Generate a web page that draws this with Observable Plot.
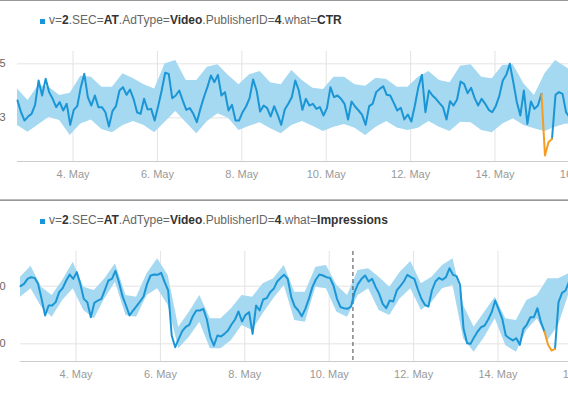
<!DOCTYPE html>
<html><head><meta charset="utf-8">
<script src="https://cdn.jsdelivr.net/npm/d3@7"></script>
<script src="https://cdn.jsdelivr.net/npm/@observablehq/plot@0.6"></script>
<style>
html,body{margin:0;padding:0;background:#fff;overflow:hidden;}
#wrap{position:relative;width:568px;height:399px;overflow:hidden;background:#fff;font-family:"Liberation Sans",Arial,Helvetica,sans-serif;}
.rule{position:absolute;left:0;width:568px;height:1px;background:#999;}
.title{position:absolute;left:49px;font-size:12px;color:#666;white-space:nowrap;line-height:14px;}
.title b{color:#333;}
.sym{position:absolute;left:40px;width:5px;height:5px;background:#1a96d6;}
.chart{position:absolute;width:633px;height:150px;}
.chart svg{max-width:none !important;}
</style></head>
<body><div id="wrap">
<div class="rule" style="top:0"></div>
<div class="sym" style="top:19px"></div>
<div class="title" style="top:13px">v=<b>2</b>.SEC=<b>AT</b>.AdType=<b>Video</b>.PublisherID=<b>4</b>.what=<b>CTR</b></div>
<div class="chart" id="c1"></div>
<div class="rule" style="top:199px;background:#bbb"></div>
<div class="rule" style="top:200px;background:#999"></div>
<div class="sym" style="top:219px"></div>
<div class="title" style="top:213px">v=<b>2</b>.SEC=<b>AT</b>.AdType=<b>Video</b>.PublisherID=<b>4</b>.what=<b>Impressions</b></div>
<div class="chart" id="c2"></div>
</div>
<script>
const HOUR = 3600e3;
const startTime = Date.UTC(2015, 4, 2, 16, 25);
const endTime = Date.UTC(2015, 4, 16, 12, 0);
const lineStepHours = 2;
const bandStepHours = 6;
const tickDates = ["2015-05-04","2015-05-06","2015-05-08","2015-05-10","2015-05-12","2015-05-14","2015-05-16"];
const annotationTime = "2015-05-10T13:30Z";

// CTR in per-mille; y tick labels show only the digit visible at the chart's left edge
const ctrTicks = [30, 35];
const ctrTickLabels = ["3", "5"];
const ctrDomain = [25.96, 36.14];
const ctrLine = [
31.60,30.52,29.75,30.12,30.37,31.20,33.46,32.07,33.61,32.38,
31.76,30.99,31.45,30.68,31.30,29.35,30.74,31.08,32.84,34.07,
31.91,31.14,32.07,30.99,30.99,30.52,29.20,30.62,31.08,32.53,
32.84,32.13,32.62,31.76,30.52,30.37,31.76,30.77,30.83,29.75,
31.08,32.53,34.17,34.07,31.82,32.07,32.53,31.60,30.74,30.90,
30.37,29.60,30.83,31.91,32.84,33.92,33.30,33.98,32.07,32.38,
30.68,31.20,29.75,29.75,30.52,31.05,31.82,33.55,32.53,30.59,
31.14,30.90,30.12,31.08,30.28,29.35,30.77,31.30,31.91,33.46,
32.53,30.74,31.76,31.14,31.30,30.83,30.99,30.22,30.90,32.84,
31.91,32.07,31.76,31.30,29.85,31.51,31.05,30.68,30.28,29.35,
31.08,31.30,32.38,32.68,32.93,32.13,32.07,31.39,30.68,30.93,
29.85,30.31,29.66,31.14,32.84,33.98,30.52,32.53,32.07,31.76,
31.36,30.99,29.85,31.54,31.14,31.70,33.36,33.15,32.28,32.78,
31.82,31.14,31.76,31.30,30.74,30.52,31.08,32.01,33.46,33.98,
35.00,33.30,31.45,30.22,32.53,29.44,31.51,30.83,31.14,32.22,
null,null,28.06,32.13,32.38,32.22,30.52,30.06];
const ctrAlertStart = 149;
const ctrAlert = [32.22, 26.51, 27.75, 28.06];
const ctrHigh = [
32.68,31.60,32.99,32.84,32.07,32.28,33.86,33.76,32.84,32.84,
34.07,33.61,33.06,32.68,35.00,35.31,33.46,33.46,34.69,34.91,
33.92,33.06,33.98,34.29,33.24,33.06,34.38,33.46,32.75,32.62,
33.76,33.76,33.06,32.93,33.67,33.55,32.84,32.84,33.76,34.29,
33.46,33.24,34.78,34.91,33.76,33.61,34.85,34.91,33.15,32.07,
34.07,35.31,34.69,33.92];
const ctrLow = [
29.29,28.67,29.35,30.06,29.75,28.36,29.44,29.81,28.92,28.61,
29.29,29.66,29.29,28.61,29.60,30.59,29.54,28.52,29.66,30.37,
29.97,28.83,29.23,29.54,28.98,28.52,29.29,29.66,29.23,28.73,
29.14,29.38,29.04,28.36,29.14,29.66,29.07,28.83,29.04,29.66,
29.14,28.73,29.60,29.54,28.83,28.61,29.44,29.91,29.29,28.98,
28.73,29.14,29.44,29.29];

const impTicks = [1000, 2000];
const impTickLabels = ["0", "0"];
const impDomain = [694, 2601];
const impLine = [
2000,2040,2127,2156,2144,2040,1780,1491,1665,1665,
1723,1896,1965,2098,2202,2127,2243,2040,1780,1723,
1462,1711,1751,1780,1936,2098,2127,2266,2069,1827,
1665,1491,1578,1653,1734,1821,2040,2185,2202,2196,
2231,2069,1925,1145,942,1087,1220,1295,1329,1480,
1578,1578,1607,1422,1116,971,1145,1127,1173,1231,
1335,1422,1561,1387,1503,1549,1173,1665,1578,1769,
1792,1896,1954,2081,2144,2196,2127,1809,1647,1578,
1480,1607,1780,1983,2116,2202,2185,2156,2144,2012,
1780,1636,1618,1607,1647,1896,2040,2127,2185,2081,
2127,1983,1867,1694,1618,1751,1734,1925,2000,2081,
2196,2156,2127,1942,1780,1676,1647,1925,2081,2144,
2110,2156,2312,2196,2173,2023,1260,1012,1000,1116,
1214,1289,1318,1422,1549,1751,1595,1434,1145,1098,
1058,1098,983,1260,1335,1462,1462,1618,1376,1214,
null,null,913,1723,1884,1925,2081,2127];
const impAlertStart = 149;
const impAlert = [1214, 988, 884, 913];
const impHigh = [
2156,2347,1983,1838,2098,2416,1983,1925,2127,2387,
1838,1809,2214,2474,2185,1289,1549,1838,1434,1434,
1607,1838,1809,2040,2127,2358,1896,1896,2329,2358,
2012,1838,2272,2301,2156,1983,2243,2428,2040,2156,
2358,2474,1665,1289,1549,1809,1434,1405,1751,1838,
2127,2127,2214,2214];
const impLow = [
1809,1954,1636,1462,1751,1954,1578,1434,1780,2069,
1491,1462,1838,1954,1665,913,1116,1376,913,913,
1058,1318,1231,1520,1780,2012,1405,1376,1983,1954,
1549,1462,1838,1954,1578,1491,1780,1954,1578,1723,
1954,2012,1087,855,1116,1434,971,855,1231,1434,
1058,1318,1867,1896];

const BLUE = "#1a96d6", BAND = "#a5d8f1", ORANGE = "#f59d22", GRID = "#e3e3e3";

const lineRows = arr => arr.map((v, i) => ({t: new Date(startTime + i * lineStepHours * HOUR), v}));
const alertRows = (start, arr) => arr.map((v, i) => ({t: new Date(startTime + (start + i) * lineStepHours * HOUR), v}));
const bandRows = (lo, hi) => lo.map((l, i) => ({t: new Date(startTime + i * bandStepHours * HOUR), lo: l, hi: hi[i]}));
const ticks = tickDates.map(d => new Date(d + "T00:00Z"));

function chart(line, alert, band, yDomain, yTicks, yLabels, yPad, extra) {
  return Plot.plot({
    width: 633, height: 150,
    marginLeft: 40, marginRight: 10, marginTop: 10, marginBottom: 30,
    style: {fontFamily: '"Liberation Sans", Arial, Helvetica, sans-serif', fontSize: "11px", color: "#999", background: "transparent", maxWidth: "none"},
    x: {type: "utc", domain: [new Date(startTime), new Date(endTime)], label: null},
    y: {domain: yDomain, label: null},
    marks: [
      Plot.gridX(ticks, {stroke: GRID, strokeOpacity: 1}),
      Plot.gridY(yTicks, {stroke: GRID, strokeOpacity: 1}),
      Plot.frame({anchor: "bottom", stroke: "#ccc"}),
      Plot.areaY(band, {x: "t", y1: "lo", y2: "hi", fill: BAND, fillOpacity: 1}),
      ...extra,
      Plot.lineY(line, {x: "t", y: "v", stroke: BLUE, strokeWidth: 2}),
      Plot.lineY(alert, {x: "t", y: "v", stroke: ORANGE, strokeWidth: 2}),
      Plot.axisX(ticks, {tickSize: 0, tickPadding: 9, tickFormat: d => d.getUTCDate() + ". May", fill: "#999", label: null}),
      Plot.axisY(yTicks, {tickSize: 0, tickPadding: yPad, tickFormat: (d, i) => yLabels[i], fill: "#666", label: null})
    ]
  });
}

const c1 = chart(lineRows(ctrLine), alertRows(ctrAlertStart, ctrAlert), bandRows(ctrLow, ctrHigh),
  ctrDomain, ctrTicks, ctrTickLabels, 12, []);
const c2 = chart(lineRows(impLine), alertRows(impAlertStart, impAlert), bandRows(impLow, impHigh),
  impDomain, impTicks, impTickLabels, 15,
  [Plot.ruleX([new Date(annotationTime)], {stroke: "#444", strokeWidth: 1, strokeDasharray: "4,3"})]);

const e1 = document.getElementById("c1"); e1.style.left = "-23px"; e1.style.top = "41px"; e1.appendChild(c1);
const e2 = document.getElementById("c2"); e2.style.left = "-20px"; e2.style.top = "241px"; e2.appendChild(c2);
</script>
</body></html>
